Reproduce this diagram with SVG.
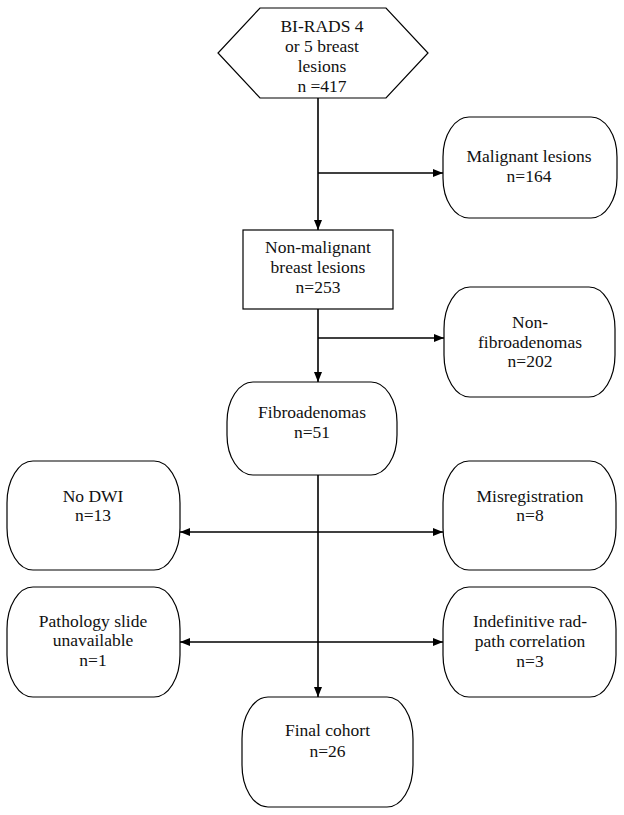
<svg xmlns="http://www.w3.org/2000/svg" width="624" height="815" viewBox="0 0 624 815">
<style>
.box{fill:#fff;stroke:#000;stroke-width:1.2}
.t{font-family:"Liberation Serif","Times New Roman",serif;font-size:17.5px;fill:#111;text-anchor:middle}
.c{fill:none;stroke:#000;stroke-width:1.6}
</style>
<defs>
<marker id="ah" viewBox="0 0 10 8" refX="10" refY="4" markerWidth="10" markerHeight="8" markerUnits="userSpaceOnUse" orient="auto-start-reverse">
<path d="M0,0 L10,4 L0,8 Z" fill="#000"/>
</marker>
</defs>
<rect width="624" height="815" fill="#fff"/>
<g id="connectors">
<line class="c" x1="318" y1="98" x2="318" y2="230" marker-end="url(#ah)"/>
<line class="c" x1="318" y1="173" x2="443" y2="173" marker-end="url(#ah)"/>
<line class="c" x1="318" y1="309" x2="318" y2="382" marker-end="url(#ah)"/>
<line class="c" x1="318" y1="338" x2="444" y2="338" marker-end="url(#ah)"/>
<line class="c" x1="318" y1="475" x2="318" y2="697" marker-end="url(#ah)"/>
<line class="c" x1="180" y1="532" x2="443" y2="532" marker-start="url(#ah)" marker-end="url(#ah)"/>
<line class="c" x1="180" y1="642" x2="443" y2="642" marker-start="url(#ah)" marker-end="url(#ah)"/>
</g>
<g id="n-birads">
<polygon class="box" points="260,8 386,8 428,53 386,98 260,98 218,53"/>
<text class="t" x="322" y="32">BI-RADS 4</text>
<text class="t" x="322" y="52">or 5 breast</text>
<text class="t" x="322" y="72">lesions</text>
<text class="t" x="322" y="92">n =417</text>
</g>
<g id="n-malignant">
<rect class="box" x="443" y="117" width="174" height="101" rx="26" ry="40"/>
<text class="t" x="529" y="162">Malignant lesions</text>
<text class="t" x="529" y="182">n=164</text>
</g>
<g id="n-nonmalignant">
<rect class="box" x="243" y="230" width="150" height="79"/>
<text class="t" x="318" y="253">Non-malignant</text>
<text class="t" x="318" y="273">breast lesions</text>
<text class="t" x="318" y="293">n=253</text>
</g>
<g id="n-nonfibro">
<rect class="box" x="444" y="287" width="171" height="110" rx="26" ry="42"/>
<text class="t" x="530" y="328">Non-</text>
<text class="t" x="530" y="348">fibroadenomas</text>
<text class="t" x="530" y="367">n=202</text>
</g>
<g id="n-fibro">
<rect class="box" x="227" y="382" width="170" height="93" rx="26" ry="40"/>
<text class="t" x="312" y="418">Fibroadenomas</text>
<text class="t" x="312" y="438">n=51</text>
</g>
<g id="n-nodwi">
<rect class="box" x="7" y="461" width="173" height="109" rx="26" ry="42"/>
<text class="t" x="93" y="502">No DWI</text>
<text class="t" x="93" y="521">n=13</text>
</g>
<g id="n-misreg">
<rect class="box" x="443" y="461" width="173" height="109" rx="26" ry="42"/>
<text class="t" x="530" y="502">Misregistration</text>
<text class="t" x="530" y="521">n=8</text>
</g>
<g id="n-pathology">
<rect class="box" x="7" y="587" width="173" height="110" rx="26" ry="42"/>
<text class="t" x="93" y="627">Pathology slide</text>
<text class="t" x="93" y="646">unavailable</text>
<text class="t" x="93" y="666">n=1</text>
</g>
<g id="n-indef">
<rect class="box" x="443" y="587" width="173" height="110" rx="26" ry="42"/>
<text class="t" x="530" y="627">Indefinitive rad-</text>
<text class="t" x="530" y="647">path correlation</text>
<text class="t" x="530" y="667">n=3</text>
</g>
<g id="n-final">
<rect class="box" x="242" y="697" width="171" height="110" rx="26" ry="42"/>
<text class="t" x="327.5" y="736">Final cohort</text>
<text class="t" x="327.5" y="757">n=26</text>
</g>
</svg>
